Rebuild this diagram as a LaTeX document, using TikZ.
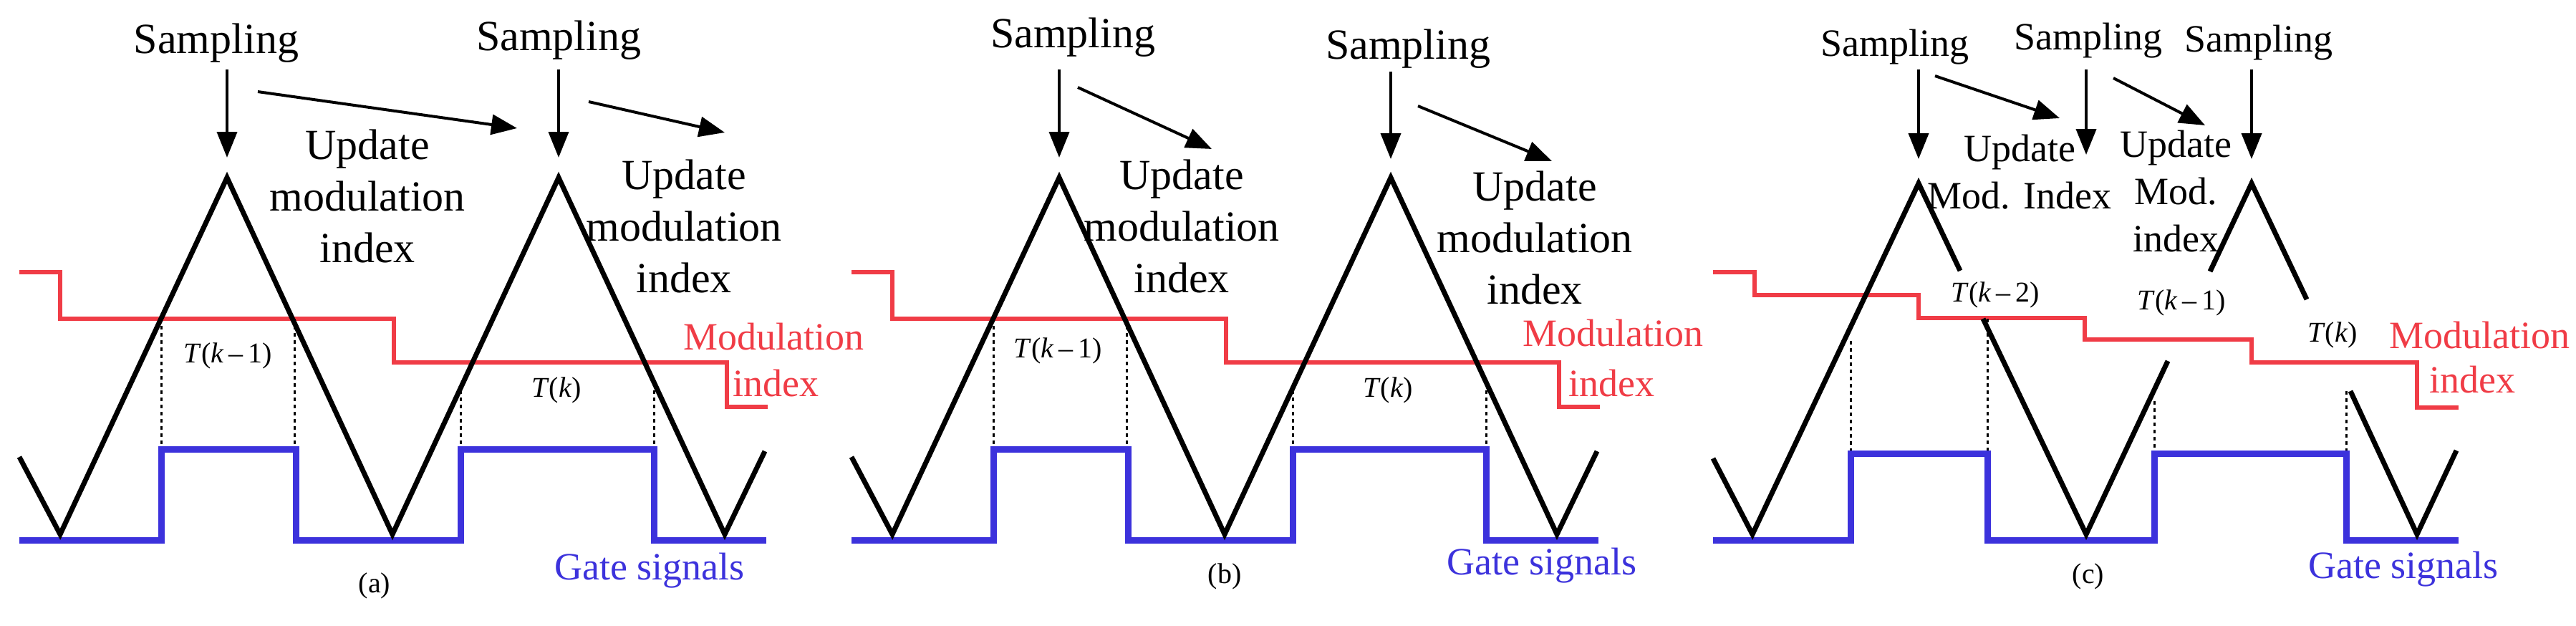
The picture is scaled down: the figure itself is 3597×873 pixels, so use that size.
\documentclass[tikz,border=0pt]{standalone}
\usepackage{fontspec}
\setmainfont{Liberation Serif}
\usetikzlibrary{arrows.meta}
\definecolor{modred}{RGB}{240,60,70}
\definecolor{gateblue}{RGB}{60,50,220}
\begin{document}
\begin{tikzpicture}[x=1pt,y=-1pt,
  tri/.style={line width=7pt,black},
  mod/.style={line width=6pt,modred},
  gate/.style={line width=9pt,gateblue},
  dot/.style={line width=3pt,dash pattern=on 5pt off 5pt,black},
  arr/.style={line width=4pt,-{Triangle[length=36pt,width=28pt]}},
  lbl/.style={font=\fontsize{60}{72}\selectfont,inner sep=0pt,align=center},
  tl/.style={font=\fontsize{40}{48}\selectfont,inner sep=0pt},
  redl/.style={font=\fontsize{54}{64}\selectfont,inner sep=0pt,text=modred},
  bluel/.style={font=\fontsize{54}{64}\selectfont,inner sep=0pt,text=gateblue}]
\useasboundingbox (0,0) rectangle (3597,873);
% ---------- waveforms (a) and (b) ----------
\foreach \s in {0,1162}{
\begin{scope}[xshift=\s pt]
\draw[mod] (27,380)--(84,380)--(84,445)--(550,445)--(550,506)--(1015,506)--(1015,568)--(1072,568);
\draw[dot] (225,445)--(225,627) (411,445)--(411,627) (643,545)--(643,627) (913,545)--(913,627);
\draw[gate] (27,754)--(225,754)--(225,627)--(413,627)--(413,754)--(643,754)--(643,627)--(913,627)--(913,754)--(1070,754);
\draw[tri,line join=miter] (27,638)--(84,746)--(317,248)--(548,746)--(780,248)--(1012,746)--(1068,630);
\end{scope}}
% ---------- panel (a) texts ----------
\node[lbl] (sa1) at (302,60) {Sampling};
\node[lbl] (sa2) at (780,56) {Sampling};
\coordinate (a1t) at (317,97); \coordinate (a1b) at (317,220);
\coordinate (a2t) at (780,97); \coordinate (a2b) at (780,220);
\draw[arr] (a1t)--(a1b); \draw[arr] (a2t)--(a2b);
\coordinate (d1s) at (360,128); \coordinate (d1e) at (722,179);
\coordinate (d2s) at (822,142); \coordinate (d2e) at (1012,185);
\draw[arr] (d1s)--(d1e); \draw[arr] (d2s)--(d2e);
\node[lbl] (ua1) at (513,274) {Update\\modulation\\index};
\node[lbl] (ua2) at (955,316) {Update\\modulation\\index};
\node[tl] (ta1) at (318,497) {\textit{T}(\textit{k}\,–\,1)};
\node[tl] (ta2) at (777,545) {\textit{T}(\textit{k})};
\node[redl] (ma) at (1080,470) {Modulation};
\node[redl] (mia) at (1083,535) {index};
\node[bluel] (ga) at (907,797) {Gate signals};
\node[tl] (la) at (523,818) {(a)};
% ---------- panel (b) texts ----------
\node[lbl] (sb1) at (1498,52) {Sampling};
\node[lbl] (sb2) at (1966,68) {Sampling};
\coordinate (b1t) at (1479,97); \coordinate (b1b) at (1479,220);
\coordinate (b2t) at (1942,100); \coordinate (b2b) at (1942,222);
\draw[arr] (b1t)--(b1b); \draw[arr] (b2t)--(b2b);
\coordinate (e1s) at (1505,122); \coordinate (e1e) at (1692,208);
\coordinate (e2s) at (1980,148); \coordinate (e2e) at (2167,225);
\draw[arr] (e1s)--(e1e); \draw[arr] (e2s)--(e2e);
\node[lbl] (ub1) at (1650,316) {Update\\modulation\\index};
\node[lbl] (ub2) at (2143,332) {Update\\modulation\\index};
\node[tl] (tb1) at (1477,490) {\textit{T}(\textit{k}\,–\,1)};
\node[tl] (tb2) at (1938,545) {\textit{T}(\textit{k})};
\node[redl] (mb) at (2252,465) {Modulation};
\node[redl] (mib) at (2250,535) {index};
\node[bluel] (gb) at (2153,790) {Gate signals};
\node[tl] (lb) at (1710,805) {(b)};
% ---------- panel (c) ----------
\draw[mod] (2392,380)--(2450,380)--(2450,412)--(2679,412)--(2679,444)--(2911,444)--(2911,474)--(3144,474)--(3144,506)--(3375,506)--(3375,569)--(3433,569);
\draw[dot] (2584,476)--(2584,633) (2775,445)--(2775,633) (3008,560)--(3008,633) (3276,546)--(3276,633);
\draw[gate] (2392,754)--(2584,754)--(2584,633)--(2775,633)--(2775,754)--(3008,754)--(3008,633)--(3276,633)--(3276,754)--(3433,754);
\draw[tri,line join=miter] (2392,640)--(2447,746)--(2679,256)--(2737,378);
\draw[tri,line join=miter] (2769,445)--(2913,746)--(3027,504);
\draw[tri,line join=miter] (3086,379)--(3144,256)--(3221,418);
\draw[tri,line join=miter] (3282,546)--(3375,746)--(3430,629);
\node[lbl,font=\fontsize{54}{64}\selectfont] (sc1) at (2646,66) {Sampling};
\node[lbl,font=\fontsize{54}{64}\selectfont] (sc2) at (2916,57) {Sampling};
\node[lbl,font=\fontsize{54}{64}\selectfont] (sc3) at (3154,60) {Sampling};
\coordinate (c1t) at (2679,97); \coordinate (c1b) at (2679,222);
\coordinate (c2t) at (2913,97); \coordinate (c2b) at (2913,216);
\coordinate (c3t) at (3144,97); \coordinate (c3b) at (3144,222);
\draw[arr] (c1t)--(c1b); \draw[arr] (c2t)--(c2b); \draw[arr] (c3t)--(c3b);
\coordinate (f1s) at (2702,106); \coordinate (f1e) at (2876,165);
\coordinate (f2s) at (2951,109); \coordinate (f2e) at (3079,175);
\draw[arr] (f1s)--(f1e); \draw[arr] (f2s)--(f2e);
\node[lbl,font=\fontsize{54}{66}\selectfont] (uc1) at (2820,240) {Update\\Mod. Index};
\node[lbl,font=\fontsize{54}{66}\selectfont] (uc2) at (3038,267) {Update\\Mod.\\index};
\node[tl] (tc1) at (2786,412) {\textit{T}(\textit{k}\,–\,2)};
\node[tl] (tc2) at (3046,423) {\textit{T}(\textit{k}\,–\,1)};
\node[tl] (tc3) at (3257,468) {\textit{T}(\textit{k})};
\node[redl] (mc) at (3462,468) {Modulation};
\node[redl] (mic) at (3452,530) {index};
\node[bluel] (gc) at (3356,795) {Gate signals};
\node[tl] (lc) at (2916,805) {(c)};
\end{tikzpicture}
\end{document}
